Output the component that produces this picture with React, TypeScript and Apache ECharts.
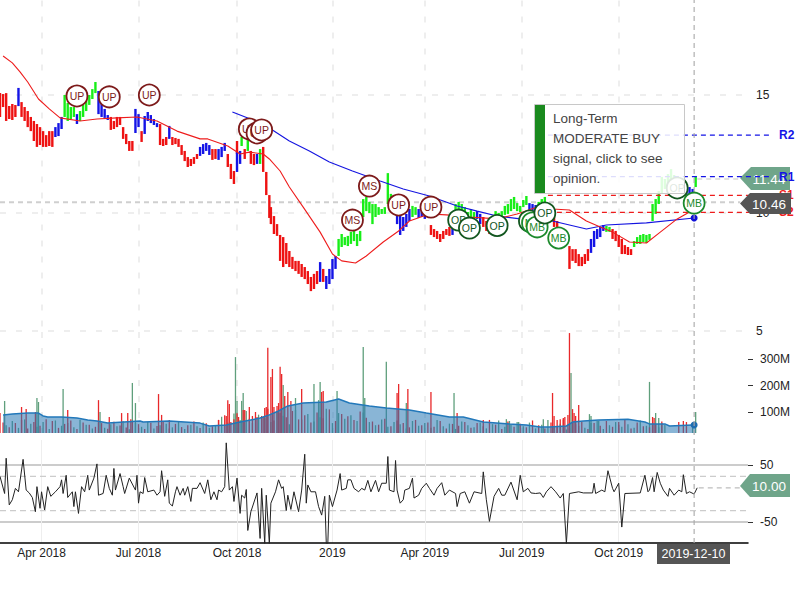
import React, { useEffect, useRef } from "react";
import * as echarts from "echarts";

const FONT = "Liberation Sans, Arial, sans-serif";
const DAY_MAX = 486;
const OVERLAY_DAY_MAX = 519.8;
const CROSS_DAY = 451;

const quarterDays = [27, 90, 154, 216, 276, 339, 402];
const quarterNames = ["Apr 2018", "Jul 2018", "Oct 2018", "2019", "Apr 2019", "Jul 2019", "Oct 2019"];
const priceTicks = [5, 10, 15];
const volumeTicks = [100, 200, 300];
const oscTicks = [-50, 50];
const oscBands = [-30, 30];

// [tradingDay, low, high]
const redBars = [
  [0,14.07,15.08],[2,14.49,15.04],[4,13.9,15.08],[6,13.98,14.53],[8,13.94,14.62],[10,14.07,14.58],
  [14,14.07,14.7],[16,13.9,14.49],[18,13.64,14.32],[20,13.47,14.07],[22,13.05,13.9],[24,12.8,13.77],
  [26,12.88,13.64],[28,12.8,13.47],[30,12.8,13.3],[32,12.84,13.47],[34,12.8,13.47],
  [72,13.52,14.07],[74,13.56,13.9],[76,13.64,14.07],[78,13.73,14.07],[80,13.14,13.64],[82,12.92,13.35],[84,12.63,13.05],[86,12.63,13.05],
  [92,13.01,13.47],[104,12.88,13.77],[106,12.84,13.14],[108,12.88,13.22],[112,12.88,13.22],[114,12.92,13.18],[116,12.8,13.14],
  [118,12.46,12.88],[120,12.2,12.63],[122,11.95,12.37],[124,11.99,12.29],[126,12.08,12.37],[128,12.29,12.5],
  [138,12.25,12.71],[140,12.29,12.71],[148,11.95,12.5],[150,11.44,12.08],[152,11.23,11.78],[154,12.5,13.05],
  [159,12.29,12.71],[163,12.08,12.63],[165,12.03,12.5],[171,11.74,12.8],[173,10.76,11.74],[175,9.79,10.76],
  [176,9.53,10.25],[178,9.11,9.87],[180,9.03,9.53],[182,7.97,9.07],[184,7.71,8.98],[186,7.84,8.73],[188,7.71,8.39],
  [190,7.63,8.14],[192,7.54,7.97],[194,7.42,7.97],[196,7.29,7.84],[198,7.2,7.71],[200,6.99,7.54],[202,6.69,7.29],
  [204,6.78,7.42],[206,6.99,7.54],[210,7.08,7.63],
  [280,9.07,9.49],[282,8.98,9.32],[284,8.9,9.24],[286,8.77,9.11],[288,8.9,9.24],[290,9.07,9.32],[292,9.03,9.41],
  [314,9.41,9.83],[316,9.24,9.66],[318,9.11,9.62],[320,9.2,9.62],
  [358,9.66,9.87],[360,9.41,9.83],[362,9.24,9.66],[364,9.11,9.41],
  [370,7.63,8.6],[372,7.97,8.47],[374,7.88,8.47],[376,7.75,8.26],[378,7.75,8.14],[380,7.84,8.26],[382,7.97,8.47],
  [398,8.9,9.32],[400,8.81,9.24],[402,8.56,9.07],[404,8.26,8.9],[406,8.26,8.64],[408,8.22,8.56],[410,8.22,8.47],
];
const blueBars = [
  [12,14.53,15.3],[36,13.22,13.64],[38,13.26,13.81],[40,13.56,14.07],[50,13.77,14.19],
  [64,14.19,15.17],[66,14.07,14.83],[68,14.03,14.41],[70,13.94,14.15],[88,13.39,14.41],[90,13.64,14.19],
  [94,13.35,14.11],[96,13.9,14.28],[98,13.81,14.15],[100,13.73,13.98],[102,13.64,13.81],[110,13.14,13.69],
  [130,12.42,12.8],[132,12.5,12.92],[134,12.63,12.97],[136,12.46,12.88],[142,12.25,12.71],[144,12.37,12.8],[146,12.63,12.97],
  [154,11.74,12.58],[156,12.08,12.63],[167,12.08,12.5],[208,7.08,7.92],[212,6.78,7.33],[214,6.99,7.63],[216,7.2,8.05],[218,7.63,8.18],
  [258,9.53,9.96],[260,9.07,9.96],[262,9.24,9.83],[264,9.41,9.96],[266,9.66,10.17],[272,9.79,10.17],[274,9.83,10.08],[276,9.75,10.04],
  [294,9.07,9.49],[310,9.75,10.08],[312,9.53,9.96],[344,10.08,10.42],[346,10.04,10.38],[348,10.08,10.34],
  [384,8.31,8.9],[386,8.56,9.24],[388,8.9,9.32],[390,8.98,9.41],[392,9.24,9.49],
  [444,10.89,11.27],[446,10.76,11.1],[448,10.76,11.1],[450,10.72,11.02],
];
const greenBars = [
  [42,14.07,15.0],[44,13.9,14.66],[46,13.98,14.49],[48,14.07,14.49],[52,13.9,14.32],[54,14.07,14.58],[56,14.32,14.83],
  [58,14.58,15.0],[60,14.83,15.25],[62,15.08,15.55],[157,12.84,13.22],[161,12.63,13.14],[169,12.08,12.71],
  [220,8.18,8.9],[222,8.56,9.11],[224,8.64,8.98],[226,8.6,9.03],[228,8.69,9.2],[230,8.81,9.24],[232,8.6,9.11],[234,8.81,9.24],
  [236,9.83,10.59],[238,10.08,10.68],[240,10.0,10.47],[242,9.53,10.38],[244,9.83,10.38],[246,9.92,10.25],[248,9.96,10.17],[250,9.96,10.25],
  [252,10.38,11.69],[254,10.25,10.81],[256,10.17,10.72],[268,9.83,10.3],[270,9.92,10.25],
  [296,9.83,10.38],[298,9.96,10.47],[300,10.04,10.38],[302,9.83,10.25],[304,9.62,10.04],[306,9.83,10.17],[308,9.66,10.04],
  [322,9.75,10.08],[324,9.75,10.0],[326,9.75,10.08],[328,9.92,10.3],[330,9.96,10.38],[332,10.08,10.59],[334,10.17,10.68],
  [336,10.08,10.42],[338,10.04,10.3],[340,10.25,10.55],[342,10.34,10.72],[350,10.13,10.47],[352,10.13,10.59],[354,10.34,10.68],
  [394,9.2,9.45],[396,9.2,9.41],[412,8.56,8.81],[414,8.69,8.98],[416,8.69,9.07],[418,8.77,9.11],[420,8.73,9.07],[422,8.86,9.11],
  [424,9.66,10.38],[426,9.96,10.59],[428,10.38,10.93],[430,10.81,11.53],[432,11.02,11.44],[434,11.1,11.65],[436,11.23,11.86],
  [438,11.1,11.61],[440,11.19,11.53],[442,11.19,11.44],[452,11.1,11.57],
];

const redAverage = [
  [2,16.65],[8,16.36],[13,15.98],[18,15.55],[25,14.83],[32,14.41],[39,14.03],[52,13.9],[63,13.98],[76,14.03],[89,14.07],[102,13.9],
  [115,13.47],[130,13.14],[135,13.14],[148,12.84],[156,12.5],[162,12.58],[171,12.5],[175,12.29],[182,11.78],[188,11.1],[197,10.25],
  [208,9.19],[216,8.26],[222,7.97],[231,7.88],[238,8.18],[249,8.77],[259,9.24],[266,9.66],[279,9.96],[290,9.92],[305,9.83],[323,9.75],
  [336,9.96],[351,10.3],[359,10.17],[370,10.13],[381,9.66],[390,9.41],[398,9.19],[409,8.77],[420,8.73],[429,9.19],[440,9.75],[448,10.04],[451,10.0],
];
const blueAverage = [
  [151,14.28],[161,14.03],[177,13.52],[188,13.05],[201,12.63],[214,12.16],[229,11.78],[247,11.36],[262,11.02],[279,10.72],[297,10.3],
  [310,10.08],[323,9.87],[338,9.75],[359,9.66],[381,9.32],[394,9.49],[420,9.58],[451,9.79],
];

const upSignals = [[50,14.96],[71,14.92],[97,15.0],[162,13.56],[167,13.39],[170,13.52],[259,10.34],[280,10.25]];
const msSignals = [[229,9.7],[240,11.14]];
const mbSignals = [[346,9.58],[349,9.41],[363,8.94],[451,10.42]];
const opSignals = [[298,9.7],[305,9.36],[323,9.47],[344,9.66],[354,10.0],[440,11.06]];

const levelR2 = 13.3;
const levelR1 = 11.54;
const levelS1 = 10.75;
const levelS2 = 10.03;
const lastPrice = 10.46;
const prevPrice = 11.44;
const lastOsc = 10;

const volRedBase = [
  60,42,58,70,38,62,48,73,66,40,55,68,36,60,52,
  44,58,37,63,49,41,66,54,36,59,47,62,38,55,43,50,64,39,57,46,
  70,88,62,95,108,74,100,85,112,68,96,80,104,72,88,60,98,76,110,66,92,84,70,102,78,
  64,52,74,46,68,58,42,70,50,60,44,66,38,55,48,62,40,58,46,70,52,36,64,44,
  56,42,68,50,38,60,46,72,40,54,62,36,58,48,66,44,52,70,38,60,46,42,56,64,
];
const volGreenBase = [
  50,66,40,72,56,44,62,36,68,48,58,42,70,52,38,
  60,40,54,46,66,35,58,44,62,38,50,56,42,64,36,52,46,60,40,48,
  82,60,94,70,104,58,90,76,62,100,86,54,108,72,92,64,80,112,58,96,74,88,66,98,62,
  50,72,44,62,54,38,66,48,58,40,70,46,56,36,64,50,42,60,38,54,68,44,52,62,
  46,60,38,52,70,42,56,34,64,48,40,58,66,36,50,62,44,54,40,68,48,58,42,52,
];
const volRedSpikes = [
  [0,96],[14,119],[17,111],[23,100],[44,108],[64,145],[71,81],[79,96],[83,96],[85,73],[103,168],[105,89],[110,70],[142,70],[147,85],[148,145],
  [149,130],[152,73],[155,81],[159,108],[162,119],[164,85],[167,81],[171,81],[172,115],[173,119],[174,343],[176,233],[177,263],[178,119],
  [180,123],[181,134],[182,271],[183,244],[185,161],[187,176],[189,142],[196,187],[209,176],[210,180],[258,172],[259,206],[265,187],[280,176],
  [297,96],[314,70],[359,172],[360,85],[362,70],[364,73],[366,77],[367,81],[369,89],[370,399],[372,111],[373,96],[374,85],[376,127],[402,62],
  [424,81],[425,77],[441,62],[444,66],[446,62],
];
const volGreenSpikes = [
  [3,142],[24,153],[25,138],[41,187],[65,100],[86,210],[88,134],[153,308],[154,142],[157,142],[158,172],[184,202],[192,153],[204,206],[208,214],
  [207,145],[219,180],[236,346],[237,153],[251,290],[264,134],[295,172],[329,73],[331,66],[337,62],[353,73],[371,248],[383,92],[384,85],[389,66],
  [422,214],[426,96],[428,77],[430,58],[450,51],[452,100],
];
const volumeAverage = [
  [2,89],[8,92],[18,96],[25,96],[28,85],[31,81],[40,81],[50,77],[57,70],[63,66],[70,58],[91,66],[93,62],[110,66],[130,58],[136,47],[147,51],
  [156,62],[169,77],[175,89],[181,104],[187,123],[197,134],[212,138],[220,149],[227,134],[240,123],[251,115],[266,108],[277,96],[292,81],[301,81],
  [314,62],[331,55],[342,51],[351,43],[357,43],[368,47],[372,62],[379,66],[389,70],[408,73],[419,62],[422,55],[432,55],[435,47],[450,51],[452,51],
];

const oscillator = [
  [0,30],[3,0],[4,62],[6,-20],[8,-11],[10,9],[12,3],[15,60],[17,6],[19,1],[21,-7],[23,-32],[24,12],[26,-26],[27,3],[29,-29],[31,12],[33,-5],[36,3],
  [39,12],[40,24],[41,0],[43,32],[44,-7],[47,3],[48,-23],[49,3],[51,-35],[53,12],[55,3],[57,32],[58,6],[61,27],[63,52],[64,-3],[67,0],[69,32],[71,9],
  [73,-3],[74,44],[75,6],[78,35],[80,12],[81,0],[84,27],[88,6],[89,32],[90,-17],[91,3],[93,0],[94,28],[96,3],[100,6],[102,-3],[104,3],[105,40],[107,-5],
  [109,24],[110,-17],[112,-22],[114,3],[115,12],[117,-3],[119,9],[120,-3],[122,12],[124,-14],[125,9],[128,9],[130,19],[133,0],[135,24],[137,-11],[139,3],
  [141,-11],[142,6],[144,3],[146,12],[147,89],[149,6],[151,12],[152,-14],[154,27],[156,-35],[157,-3],[159,-8],[160,7],[161,-65],[163,-32],[167,1],[169,-79],
  [170,9],[172,-88],[173,-3],[175,-88],[176,-17],[179,3],[181,24],[183,9],[184,12],[186,-30],[187,-3],[189,-28],[191,3],[194,-32],[196,6],[198,69],[199,-17],
  [200,15],[202,3],[205,3],[207,-23],[209,-38],[211,-5],[212,-88],[213,-88],[214,-3],[216,-23],[219,6],[221,35],[222,6],[225,9],[226,24],[228,24],[230,9],
  [233,3],[235,9],[237,6],[239,23],[241,3],[244,23],[246,3],[248,18],[251,18],[252,65],[253,6],[256,3],[257,58],[258,6],[260,-17],[262,-11],[263,6],[266,9],
  [268,27],[269,-8],[272,-3],[274,9],[277,18],[279,9],[282,-3],[284,9],[287,19],[289,-3],[292,6],[296,0],[297,-23],[299,0],[302,3],[305,-17],[308,3],[313,0],
  [314,38],[316,-11],[318,-49],[321,-5],[324,9],[326,-3],[328,-3],[332,20],[336,-11],[338,32],[340,3],[343,9],[345,1],[348,0],[351,1],[353,-7],[355,3],[358,12],
  [361,3],[364,-8],[366,0],[368,-88],[370,0],[376,3],[379,1],[385,1],[386,18],[387,0],[391,6],[393,3],[395,40],[398,9],[399,3],[402,18],[404,-59],[406,0],[416,1],
  [419,32],[421,3],[422,6],[424,28],[425,3],[427,37],[429,18],[431,6],[434,-5],[435,9],[438,-3],[441,6],[443,3],[444,33],[446,0],[448,3],[451,-1],[453,10],
];

const adviceLines = "Long-Term\nMODERATE BUY\nsignal, click to see\nopinion.";
const crossDate = "2019-12-10";

const priceBarSeries = (data: number[][], color: string, name: string) => ({
  type: "custom",
  name,
  xAxisIndex: 0,
  yAxisIndex: 0,
  z: 3,
  data,
  encode: { x: 0, y: [1, 2] },
  renderItem: (_: any, api: any) => {
    const top = api.coord([api.value(0), api.value(2)]);
    const bottom = api.coord([api.value(0), api.value(1)]);
    return {
      type: "rect",
      shape: { x: top[0] - 1.2, y: top[1], width: 2.4, height: Math.max(1, bottom[1] - top[1]) },
      style: { fill: color },
    };
  },
});

// One series per signal, so that a later circle hides the label of an earlier one.
const signalGroups: [number[][], string, string][] = [
  [upSignals, "UP", "#7d1a1a"],
  [msSignals, "MS", "#7d1a1a"],
  [mbSignals, "MB", "#1c8a2c"],
  [opSignals, "OP", "#12561f"],
];
const signalSeries = () =>
  signalGroups
    .flatMap(([points, text, border]) => points.map((point) => ({ point, text, border })))
    .sort((a, b) => a.point[0] - b.point[0])
    .map(({ point, text, border }, rank) => ({
      type: "scatter",
      name: text,
      xAxisIndex: 0,
      yAxisIndex: 0,
      z: 7 + rank,
      data: [point],
      symbol: "circle",
      symbolSize: 21,
      itemStyle: { color: "#fff", borderColor: border, borderWidth: 1.8, opacity: 1 },
      label: { show: true, position: "inside", formatter: text, color: border, fontSize: 10.5, fontFamily: FONT },
    }));

const levelSeries = (value: number, text: string, color: string) => ({
  type: "line",
  name: text,
  xAxisIndex: 3,
  yAxisIndex: 3,
  z: 4,
  silent: true,
  symbol: "none",
  data: [[356, value], [500.3, value]],
  lineStyle: { color, width: 1.3, type: [5, 4] },
  endLabel: { show: true, formatter: text, color, fontWeight: "bold", fontSize: 12, fontFamily: FONT, distance: 9 },
});

const guide = (xi: number, data: number[][], color: string, width: number, name: string, z = 2) => ({
  type: "line",
  name,
  xAxisIndex: xi,
  yAxisIndex: xi,
  z,
  silent: true,
  symbol: "none",
  data,
  lineStyle: { color, width, type: [5, 4] },
});

const xAxisBase = (gridIndex: number, solid: boolean) => ({
  type: "value",
  gridIndex,
  min: 0,
  max: DAY_MAX,
  axisLine: { show: false, onZero: false },
  axisTick: { show: false, customValues: quarterDays },
  axisLabel: { show: false, customValues: quarterDays },
  splitLine: {
    show: true,
    customValues: quarterDays,
    lineStyle: solid ? { color: "#eeeeee", width: 1 } : { color: "#e9e9e9", width: 1.5, type: [6, 10] },
  },
});

const hiddenAxis = (gridIndex: number, min: number, max: number) => ({
  type: "value",
  gridIndex,
  min,
  max,
  show: false,
});

const tag = (points: number[][], fill: string, text: string, tx: number, ty: number, z: number) => [
  { type: "polygon", z, shape: { points }, style: { fill }, silent: true },
  {
    type: "text",
    z: z + 1,
    x: tx,
    y: ty,
    silent: true,
    style: { text, fill: "#fff", fontSize: 13.5, fontFamily: FONT, textAlign: "center", textVerticalAlign: "middle" },
  },
];

export default function App() {
  const ref = useRef<HTMLDivElement>(null);
  useEffect(() => {
    const chart = echarts.init(ref.current!, undefined, { renderer: "svg", width: 800, height: 600 });
    const volRed = [...volRedBase.map((v, i) => [2 + 4 * i, v]), ...volRedSpikes];
    const volGreen = [...volGreenBase.map((v, i) => [4 + 4 * i, v]), ...volGreenSpikes];
    chart.setOption({
      animation: false,
      backgroundColor: "#fff",
      textStyle: { fontFamily: FONT },
      grid: [
        { left: 0, width: 748, top: 0.6, height: 330.4 },
        { left: 0, width: 748, top: 332, height: 101 },
        { left: 0, width: 748, top: 440, height: 103 },
        { left: 0, width: 800, top: 0.6, height: 330.4 },
        { left: 0, width: 748, top: 0, height: 543 },
      ],
      xAxis: [
        xAxisBase(0, false),
        xAxisBase(1, false),
        {
          ...xAxisBase(2, true),
          axisLine: { show: true, onZero: false, lineStyle: { color: "#000", width: 1.5 } },
          axisLabel: {
            show: true,
            customValues: quarterDays,
            margin: 4,
            color: "#222",
            fontSize: 12,
            fontFamily: FONT,
            formatter: (v: number) => quarterNames[quarterDays.indexOf(v)] ?? "",
          },
        },
        hiddenAxis(3, 0, OVERLAY_DAY_MAX),
        hiddenAxis(4, 0, DAY_MAX),
      ],
      yAxis: [
        {
          type: "value",
          gridIndex: 0,
          position: "right",
          min: 5,
          max: 19,
          axisLine: { show: false, onZero: false },
          axisTick: { show: false, customValues: priceTicks },
          axisLabel: { customValues: priceTicks, margin: 8, color: "#222", fontSize: 12, fontFamily: FONT },
          splitLine: { show: true, customValues: priceTicks, lineStyle: { color: "#e9e9e9", width: 1.5, type: [6, 10] } },
        },
        {
          type: "value",
          gridIndex: 1,
          position: "right",
          min: 20.5,
          max: 403,
          axisLine: { show: false, onZero: false },
          axisTick: { show: true, customValues: volumeTicks, length: 5, lineStyle: { color: "#333" } },
          axisLabel: {
            customValues: volumeTicks,
            margin: 12,
            color: "#222",
            fontSize: 12,
            fontFamily: FONT,
            formatter: (v: number) => `${v}M`,
          },
          splitLine: { show: false },
        },
        {
          type: "value",
          gridIndex: 2,
          position: "right",
          min: -87,
          max: 94,
          axisLine: { show: false, onZero: false },
          axisTick: { show: true, customValues: oscTicks, length: 5, lineStyle: { color: "#333" } },
          axisLabel: { customValues: oscTicks, margin: 12, color: "#222", fontSize: 12, fontFamily: FONT },
          splitLine: { show: true, customValues: oscTicks, lineStyle: { color: "#bbbbbb", width: 1.5 } },
        },
        hiddenAxis(3, 5, 19),
        hiddenAxis(4, 0, 1),
      ],
      series: [
        guide(0, [[0, lastPrice], [481, lastPrice]], "#cfcfcf", 2, "last price"),
        guide(0, [[453, prevPrice], [481, prevPrice]], "#c4c4c4", 1.2, "previous price"),
        {
          type: "line",
          name: "long average",
          xAxisIndex: 0,
          yAxisIndex: 0,
          z: 4,
          symbol: "none",
          data: blueAverage,
          lineStyle: { color: "#1414e0", width: 1.1 },
        },
        {
          type: "line",
          name: "short average",
          xAxisIndex: 0,
          yAxisIndex: 0,
          z: 4,
          symbol: "none",
          data: redAverage,
          lineStyle: { color: "#ee1c1c", width: 1.1 },
        },
        priceBarSeries(redBars, "#ee1212", "down"),
        priceBarSeries(blueBars, "#1414e6", "neutral"),
        priceBarSeries(greenBars, "#18ee18", "up"),
        {
          type: "scatter",
          name: "average end",
          xAxisIndex: 0,
          yAxisIndex: 0,
          z: 5,
          symbolSize: 7,
          data: [blueAverage[blueAverage.length - 1]],
          itemStyle: { color: "#1010d8", opacity: 1 },
        },
        ...signalSeries(),
        levelSeries(levelR2, "R2", "#1414e6"),
        levelSeries(levelR1, "R1", "#1414e6"),
        levelSeries(levelS1, "S1", "#ee1c1c"),
        levelSeries(levelS2, "S2", "#ee1c1c"),
        {
          type: "bar",
          name: "volume up",
          xAxisIndex: 1,
          yAxisIndex: 1,
          z: 2,
          barWidth: 1.3,
          barGap: "-100%",
          data: volGreen,
          itemStyle: { color: "#5f9f7c" },
        },
        {
          type: "bar",
          name: "volume down",
          xAxisIndex: 1,
          yAxisIndex: 1,
          z: 2,
          barWidth: 1.3,
          barGap: "-100%",
          data: volRed,
          itemStyle: { color: "#e8282a" },
        },
        {
          type: "line",
          name: "volume average",
          xAxisIndex: 1,
          yAxisIndex: 1,
          z: 3,
          symbol: "none",
          data: volumeAverage,
          lineStyle: { color: "#2278ba", width: 1.5 },
          areaStyle: { origin: "start", color: "rgba(40,120,180,0.55)", opacity: 1 },
        },
        {
          type: "scatter",
          name: "volume end",
          xAxisIndex: 1,
          yAxisIndex: 1,
          z: 5,
          symbolSize: 7,
          data: [[CROSS_DAY, 51]],
          itemStyle: { color: "#1d6db0", opacity: 1 },
        },
        guide(2, [[454, lastOsc], [481, lastOsc]], "#bdbdbd", 1.2, "oscillator last"),
        {
          type: "line",
          name: "band upper",
          xAxisIndex: 2,
          yAxisIndex: 2,
          z: 2,
          symbol: "none",
          data: [[0, oscBands[1]], [DAY_MAX, oscBands[1]]],
          lineStyle: { color: "#cccccc", width: 1.2, type: [6, 4] },
        },
        {
          type: "line",
          name: "band lower",
          xAxisIndex: 2,
          yAxisIndex: 2,
          z: 2,
          symbol: "none",
          data: [[0, oscBands[0]], [DAY_MAX, oscBands[0]]],
          lineStyle: { color: "#cccccc", width: 1.2, type: [6, 4] },
        },
        {
          type: "line",
          name: "oscillator",
          xAxisIndex: 2,
          yAxisIndex: 2,
          z: 3,
          symbol: "none",
          data: oscillator,
          lineStyle: { color: "#222", width: 1 },
        },
        guide(4, [[CROSS_DAY, 0], [CROSS_DAY, 1]], "#a8a8a8", 1.1, "crosshair", 6),
      ],
      graphic: [
        ...tag([[740, 178], [751, 167], [790, 167], [790, 190], [751, 190]], "#6fa58a", "11.44", 769, 179, 1),
        ...tag([[740, 203.5], [750, 193], [791, 193], [791, 214], [750, 214]], "#555555", "10.46", 769, 204, 30),
        ...tag([[740, 486], [750, 474], [790, 474], [790, 497], [750, 497]], "#6fa58a", "10.00", 769, 486, 30),
        { type: "rect", z: 30, shape: { x: 657, y: 544, width: 73, height: 20 }, style: { fill: "#555555" }, silent: true },
        {
          type: "text",
          z: 31,
          x: 693.5,
          y: 553.5,
          silent: true,
          style: { text: crossDate, fill: "#fff", fontSize: 12.5, fontFamily: FONT, textAlign: "center", textVerticalAlign: "middle" },
        },
        {
          type: "rect",
          z: 40,
          shape: { x: 534.5, y: 104.5, width: 150, height: 89 },
          style: { fill: "rgba(255,255,255,0.86)", stroke: "#c8c8c8", lineWidth: 1 },
          silent: true,
        },
        { type: "rect", z: 41, shape: { x: 535, y: 105, width: 10, height: 88 }, style: { fill: "#1a8a1e" }, silent: true },
        {
          type: "text",
          z: 41,
          x: 553,
          y: 108,
          silent: true,
          style: { text: adviceLines, fill: "#444", fontSize: 13.5, lineHeight: 20, fontFamily: FONT },
        },
      ],
    });
    return () => chart.dispose();
  }, []);
  return <div ref={ref} style={{ position: "fixed", left: 0, top: 0, width: 800, height: 600 }} />;
}
